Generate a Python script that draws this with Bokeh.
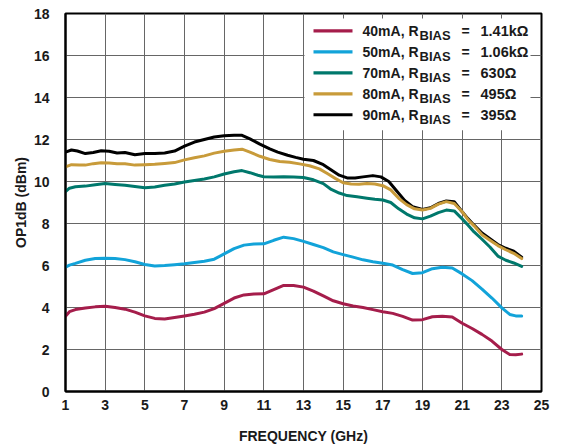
from bokeh.plotting import figure
from bokeh.models import Range1d, FixedTicker, BoxAnnotation, Label
from bokeh.embed import file_html
from bokeh.resources import INLINE
import math

# ---------------- data ----------------
freq_90 = [1.0, 1.3, 1.6, 2.0, 2.4, 2.8, 3.2, 3.6, 4.0, 4.5, 5.0, 5.5, 6.0, 6.5, 7.0, 7.5, 8.0, 8.5,
           9.0, 9.5, 9.9, 10.3, 10.8, 11.3, 11.7, 12.2, 12.6, 13.0, 13.5, 14.0, 14.4, 14.8, 15.2, 15.6,
           16.0, 16.5, 16.9, 17.3, 17.7, 18.1, 18.5, 19.0, 19.4, 19.8, 20.2, 20.6, 21.0, 21.3, 21.6,
           22.0, 22.4, 22.8, 23.2, 23.6, 24.0]
op1db_90 = [11.40, 11.50, 11.45, 11.33, 11.38, 11.46, 11.44, 11.36, 11.38, 11.27, 11.33, 11.33, 11.36,
            11.45, 11.68, 11.88, 12.00, 12.12, 12.18, 12.20, 12.20, 12.03, 11.78, 11.55, 11.40, 11.25,
            11.15, 11.06, 11.00, 10.80, 10.55, 10.30, 10.17, 10.17, 10.22, 10.28, 10.22, 10.00, 9.55,
            9.10, 8.80, 8.67, 8.75, 8.95, 9.07, 9.04, 8.56, 8.22, 7.92, 7.55, 7.28, 7.00, 6.82, 6.68, 6.40]

freq_80 = [1.0, 1.3, 1.7, 2.0, 2.4, 2.8, 3.2, 3.6, 4.0, 4.5, 5.0, 5.5, 6.0, 6.5, 7.0, 7.5, 8.0, 8.5,
           9.0, 9.5, 9.9, 10.3, 10.8, 11.3, 11.8, 12.3, 12.8, 13.3, 13.8, 14.2, 14.6, 15.0, 15.4, 15.8,
           16.2, 16.6, 17.0, 17.4, 17.8, 18.2, 18.6, 19.0, 19.4, 19.8, 20.2, 20.6, 21.0, 21.3, 21.6,
           22.0, 22.4, 22.8, 23.2, 23.6, 24.0]
op1db_80 = [10.70, 10.80, 10.78, 10.78, 10.85, 10.89, 10.88, 10.84, 10.84, 10.78, 10.80, 10.82, 10.86,
            10.90, 11.03, 11.13, 11.22, 11.35, 11.44, 11.50, 11.54, 11.40, 11.20, 11.05, 10.95, 10.92,
            10.84, 10.75, 10.60, 10.38, 10.15, 9.94, 9.88, 9.87, 9.90, 9.88, 9.80, 9.60, 9.20, 8.90,
            8.70, 8.64, 8.72, 8.92, 9.04, 8.95, 8.56, 8.17, 7.89, 7.46, 7.20, 6.95, 6.75, 6.58, 6.33]

freq_70 = [1.0, 1.2, 1.5, 2.0, 2.5, 3.0, 3.5, 4.0, 4.5, 5.0, 5.5, 6.0, 6.5, 7.0, 7.5, 8.0, 8.5, 9.0,
           9.5, 9.9, 10.3, 10.7, 11.0, 11.5, 12.0, 12.5, 13.0, 13.5, 14.0, 14.4, 14.8, 15.2, 15.7, 16.2,
           16.6, 17.0, 17.4, 17.8, 18.2, 18.6, 19.0, 19.4, 19.8, 20.2, 20.6, 21.0, 21.3, 21.6, 22.0,
           22.4, 22.8, 23.2, 23.6, 24.0]
op1db_70 = [9.52, 9.68, 9.75, 9.78, 9.85, 9.90, 9.86, 9.82, 9.76, 9.70, 9.74, 9.82, 9.88, 9.98, 10.05,
            10.12, 10.22, 10.36, 10.46, 10.52, 10.42, 10.30, 10.23, 10.22, 10.23, 10.22, 10.19, 10.08,
            9.90, 9.62, 9.45, 9.33, 9.27, 9.20, 9.15, 9.12, 9.00, 8.70, 8.45, 8.27, 8.22, 8.35, 8.52,
            8.64, 8.60, 8.22, 7.92, 7.60, 7.25, 6.88, 6.45, 6.25, 6.12, 5.96]

freq_50 = [1.0, 1.2, 1.5, 2.0, 2.5, 3.0, 3.5, 4.0, 4.5, 5.0, 5.5, 6.0, 6.5, 7.0, 7.5, 8.0, 8.5, 9.0,
           9.5, 10.0, 10.5, 11.0, 11.5, 12.0, 12.5, 13.0, 13.5, 14.0, 14.5, 15.0, 15.5, 16.0, 16.5,
           17.0, 17.5, 18.0, 18.5, 19.0, 19.5, 20.0, 20.5, 21.0, 21.5, 22.0, 22.5, 23.0, 23.4, 23.7, 24.0]
op1db_50 = [5.92, 6.02, 6.10, 6.25, 6.33, 6.35, 6.33, 6.28, 6.18, 6.05, 5.98, 6.00, 6.04, 6.08, 6.14,
            6.20, 6.30, 6.55, 6.80, 6.97, 7.02, 7.03, 7.20, 7.35, 7.28, 7.15, 7.00, 6.85, 6.65, 6.52,
            6.40, 6.27, 6.18, 6.11, 6.02, 5.80, 5.62, 5.66, 5.85, 5.92, 5.88, 5.60, 5.28, 4.88, 4.45,
            3.98, 3.67, 3.60, 3.60]

freq_40 = [1.0, 1.2, 1.5, 2.0, 2.5, 3.0, 3.5, 4.0, 4.5, 5.0, 5.5, 6.0, 6.5, 7.0, 7.5, 8.0, 8.5, 9.0,
           9.5, 10.0, 10.5, 11.0, 11.5, 12.0, 12.5, 13.0, 13.5, 14.0, 14.5, 15.0, 15.5, 16.0, 16.5,
           17.0, 17.5, 18.0, 18.5, 19.0, 19.5, 20.0, 20.5, 21.0, 21.5, 22.0, 22.5, 23.0, 23.4, 23.7, 24.0]
op1db_40 = [3.58, 3.80, 3.90, 3.98, 4.03, 4.06, 4.00, 3.92, 3.78, 3.60, 3.48, 3.45, 3.52, 3.60, 3.68,
            3.78, 3.95, 4.20, 4.45, 4.60, 4.64, 4.65, 4.85, 5.05, 5.05, 4.97, 4.78, 4.55, 4.32, 4.18,
            4.07, 4.00, 3.90, 3.80, 3.72, 3.58, 3.40, 3.42, 3.56, 3.58, 3.55, 3.25, 3.00, 2.72, 2.40,
            2.00, 1.76, 1.75, 1.78]

currents = ["40mA", "50mA", "70mA", "80mA", "90mA"]
rbias = ["1.41kΩ", "1.06kΩ", "630Ω", "495Ω", "395Ω"]
colors = ["#A51D4B", "#12A3D9", "#00786C", "#C89B3A", "#000000"]
x_ticks = [1, 3, 5, 7, 9, 11, 13, 15, 17, 19, 21, 23, 25]
y_ticks = [0, 2, 4, 6, 8, 10, 12, 14, 16, 18]

series = [(freq_40, op1db_40), (freq_50, op1db_50), (freq_70, op1db_70),
          (freq_80, op1db_80), (freq_90, op1db_90)]

# ---------------- layout ----------------
W, H = 587, 446
BL, BR, BT, BB = 65, 46, 13, 54
FW, FH = W - BL - BR, H - BT - BB
X0, X1, Y0, Y1 = 1, 25, 0, 18
FONT = "Liberation Sans"
TXT = "#1a1a1a"

p = figure(width=W, height=H, output_backend="svg", toolbar_location=None,
           x_range=Range1d(X0, X1), y_range=Range1d(Y0, Y1),
           min_border_left=BL, min_border_right=BR, min_border_top=BT, min_border_bottom=BB,
           background_fill_color="white", border_fill_color="white")

p.outline_line_color = "black"
p.outline_line_width = 2

for ax, ticks in ((p.xaxis, x_ticks), (p.yaxis, y_ticks)):
    ax.ticker = FixedTicker(ticks=ticks)
    ax.axis_line_color = "black"
    ax.axis_line_width = 2
    ax.major_tick_line_color = None
    ax.minor_tick_line_color = None
    ax.major_label_text_font = FONT
    ax.major_label_text_font_style = "bold"
    ax.major_label_text_font_size = "14px"
    ax.major_label_text_color = TXT
    ax.axis_label_text_font = FONT
    ax.axis_label_text_font_style = "bold"
    ax.axis_label_text_font_size = "14px"
    ax.axis_label_text_color = TXT

p.xaxis.axis_label = "FREQUENCY (GHz)"
p.yaxis.axis_label = "OP1dB (dBm)"
p.xaxis.major_label_standoff = 2
p.yaxis.major_label_standoff = 10
p.xaxis.axis_label_standoff = 15
p.yaxis.axis_label_standoff = 2

for g in (p.xgrid, p.ygrid):
    g.grid_line_color = "#666666"
    g.grid_line_width = 1
p.xgrid.ticker = FixedTicker(ticks=x_ticks)
p.ygrid.ticker = FixedTicker(ticks=y_ticks)

# draw order: black underneath, then gold, teal, cyan, crimson
for i in [4, 3, 2, 1, 0]:
    fx, fy = series[i]
    p.line(fx, fy, line_color=colors[i], line_width=3, line_join="round", line_cap="round")

# ---------------- manual legend (with subscript) ----------------
def dx(px):  # canvas px -> data x
    return X0 + (px - BL) * (X1 - X0) / FW

def dy(py):  # canvas px -> data y
    return Y0 + (BT + FH - py) * (Y1 - Y0) / FH

p.add_layout(BoxAnnotation(left=dx(304), right=dx(530), top=dy(18), bottom=dy(130),
                           fill_color="white", fill_alpha=1.0, line_color=None, level="annotation"))

FB = BT + FH  # frame bottom in canvas px
row0, pitch = 30.5, 21.0
for i in range(5):
    c = row0 + i * pitch
    p.add_layout(BoxAnnotation(left=dx(313), right=dx(352), top=dy(c - 1.6), bottom=dy(c + 1.6),
                               fill_color=colors[i], fill_alpha=1.0, line_color=None))
    common = dict(x=X0, y=Y0, text_font=FONT, text_font_style="bold", text_color=TXT,
                  text_baseline="middle", text_align="left")
    p.add_layout(Label(x_offset=362 - BL, y_offset=FB - (c + 0.5), text=f"{currents[i]}, R",
                       text_font_size="14px", **common))
    p.add_layout(Label(x_offset=419 - BL, y_offset=FB - (c + 5.5), text="BIAS",
                       text_font_size="13px", **common))
    p.add_layout(Label(x_offset=461 - BL, y_offset=FB - (c + 0.5), text="=",
                       text_font_size="14px", **common))
    p.add_layout(Label(x_offset=480 - BL, y_offset=FB - (c + 0.5), text=rbias[i],
                       text_font_size="14.5px", **common))

p.add_layout(Label(x=X0, y=Y0, x_offset=576 - BL, y_offset=FB - 425, text="036",
                   text_font=FONT, text_font_size="8px", text_color="#555555",
                   angle=math.pi / 2, text_align="center", text_baseline="middle"))

open("out.html", "w").write(file_html(p, INLINE))
